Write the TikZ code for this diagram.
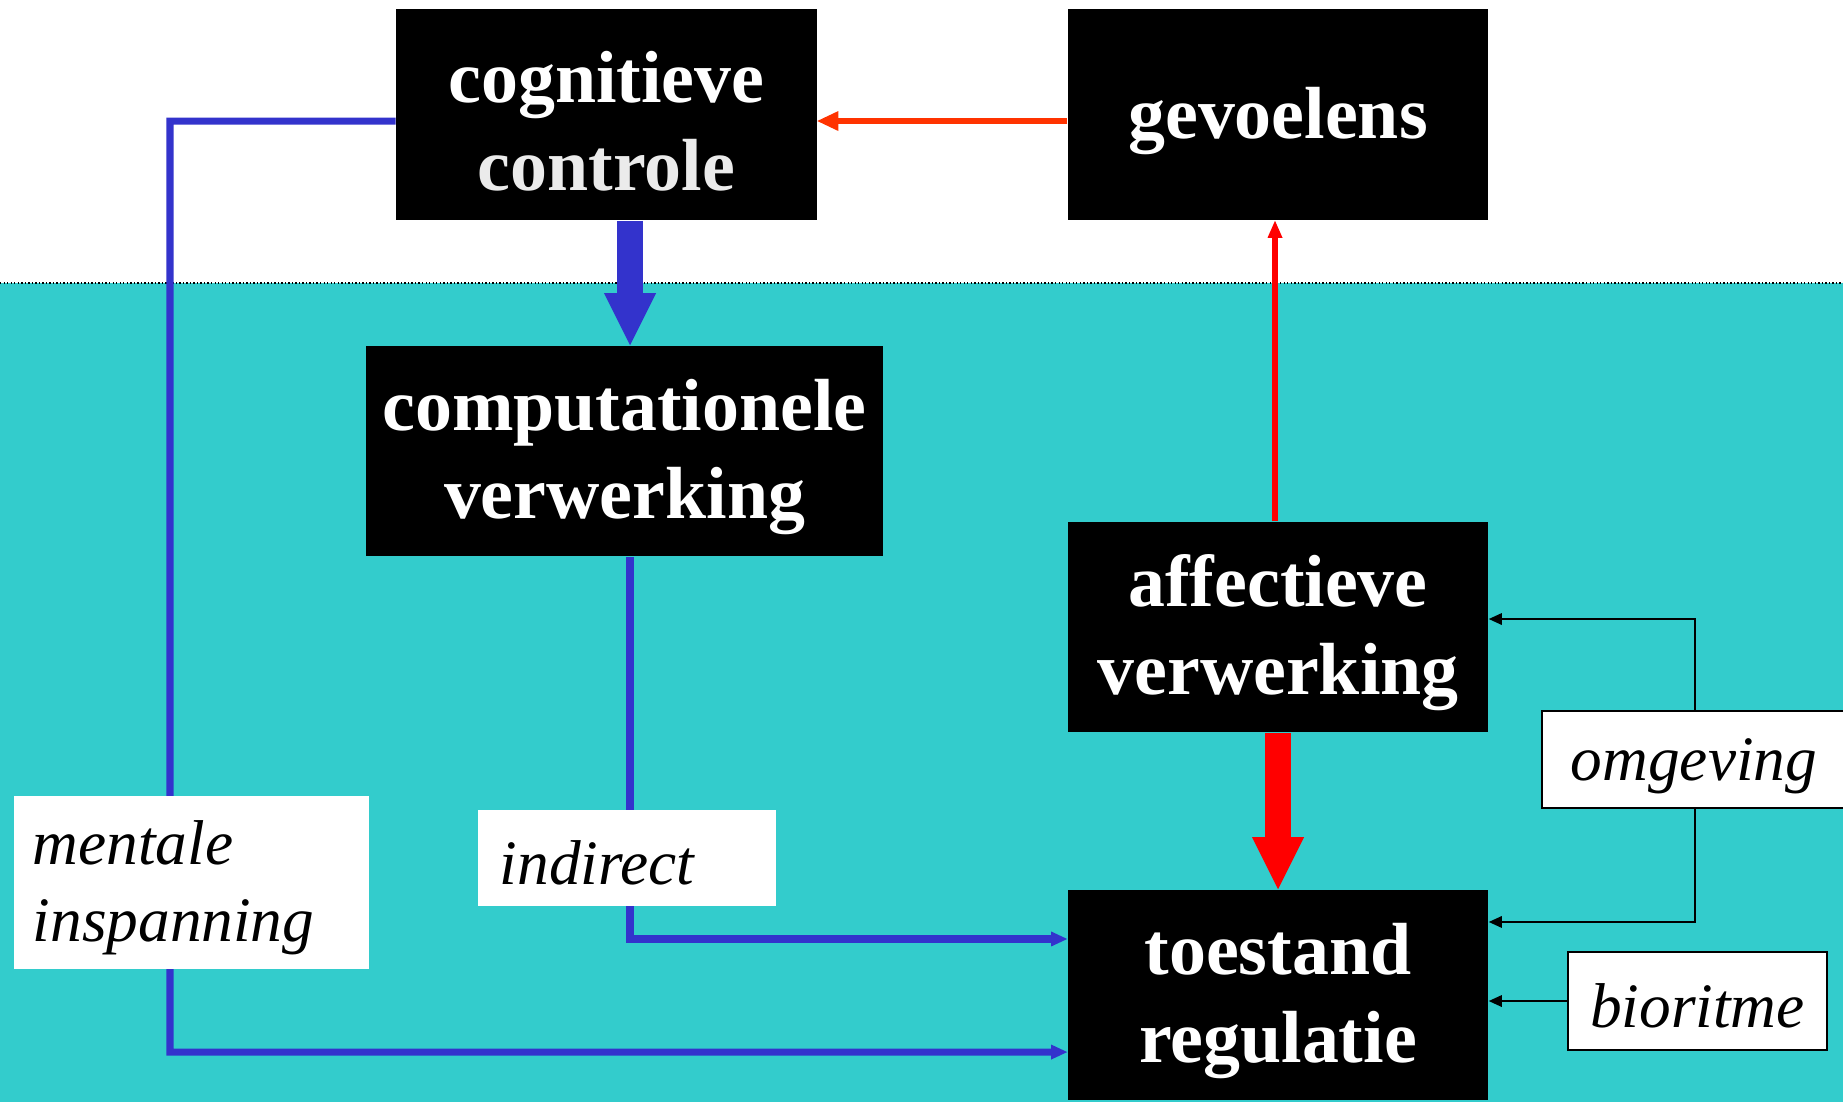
\documentclass[tikz,border=0pt]{standalone}
\usepackage{fontspec}
\setmainfont{Liberation Serif}
\usetikzlibrary{arrows.meta}
\definecolor{lagoon}{HTML}{33CCCC}
\definecolor{inkblue}{HTML}{3333CC}
\definecolor{flame}{HTML}{FF3300}
\begin{document}
\begin{tikzpicture}[x=0.01cm,y=-0.01cm,
  blackbox/.style={fill=black,text=white,align=center,inner sep=0pt,text height=43.2pt,
    minimum width=4.2cm,minimum height=2.11cm,font=\fontsize{21}{25}\selectfont\bfseries},
  labelbox/.style={fill=white,inner sep=0pt,text height=15.5pt,font=\fontsize{18}{22}\selectfont\itshape},
  blueline/.style={inkblue,line width=2pt,-{Triangle[length=0.16cm,width=0.15cm,line width=0pt]}},
  fatarrow/.style={line width=0.26cm,-{Triangle[length=0.52cm,width=0.52cm,line width=0pt]}},
  thinarrow/.style={black,line width=0.55pt,-{Triangle[length=0.13cm,width=0.12cm,line width=0pt]}}]
\useasboundingbox (0,0) rectangle (1843,1102);
\fill[white] (0,0) rectangle (1843,283);
\fill[lagoon] (0,283) rectangle (1843,1102);
\draw[black,line width=0.6pt,dash pattern=on 0.4pt off 0.6pt] (0,283) -- (1843,283);

\node[blackbox] (cog) at (606.5,114.5) {cognitieve\\{\color{black!8}controle}};
\node[blackbox,text height=18.2pt] (gev) at (1278,114.5) {gevoelens};
\node[blackbox,minimum width=5.17cm,minimum height=2.1cm] (comp) at (624.5,451) {computationele\\verwerking};
\node[blackbox,minimum height=2.1cm] (aff) at (1278,627) {affectieve\\verwerking};
\node[blackbox,minimum height=2.1cm] (toe) at (1278,995) {toestand\\regulatie};

\coordinate (bend) at (170,1052);
\draw[blueline] ([yshift=-0.065cm]cog.west) -| (bend) -- ([yshift=-0.57cm]toe.west);
\draw[blueline] ([xshift=0.055cm]comp.south) |- ([yshift=0.56cm]toe.west);
\draw[inkblue,fatarrow] ([xshift=0.055cm]comp.north |- cog.south) -- ([xshift=0.055cm]comp.north);
\draw[red,fatarrow] (aff.south) -- (toe.north);
\draw[red,line width=1.5pt,-{Triangle[length=0.17cm,width=0.15cm,line width=0pt]}] ([xshift=-0.03cm]aff.north) -- ([xshift=-0.03cm]gev.south);
\draw[flame,line width=1.7pt,-{Triangle[length=0.21cm,width=0.2cm,line width=0pt]}] ([yshift=-0.065cm]gev.west) -- ([yshift=-0.065cm]cog.east);

\node[labelbox,align=left,text width=3.17cm,inner xsep=0.19cm,minimum height=1.73cm] (ment) at (191.5,882.5) {mentale\\inspanning};
\node[labelbox,align=left,text width=2.54cm,inner xsep=0.22cm,minimum height=0.96cm] (ind) at (627,858) {indirect};
\node[labelbox,draw,line width=0.5pt,align=left,text width=2.48cm,inner xsep=0.29cm,minimum height=0.97cm] (omg) at (1695,759.5) {omgeving};
\node[labelbox,draw,line width=0.5pt,minimum width=2.59cm,minimum height=0.98cm] (bio) at (1697.5,1001) {bioritme};

\draw[thinarrow] (omg.north) |- ([yshift=0.08cm]aff.east);
\draw[thinarrow] (omg.south) |- ([yshift=0.73cm]toe.east);
\draw[thinarrow] (bio.west) -- (bio.west -| toe.east);
\end{tikzpicture}
\end{document}
